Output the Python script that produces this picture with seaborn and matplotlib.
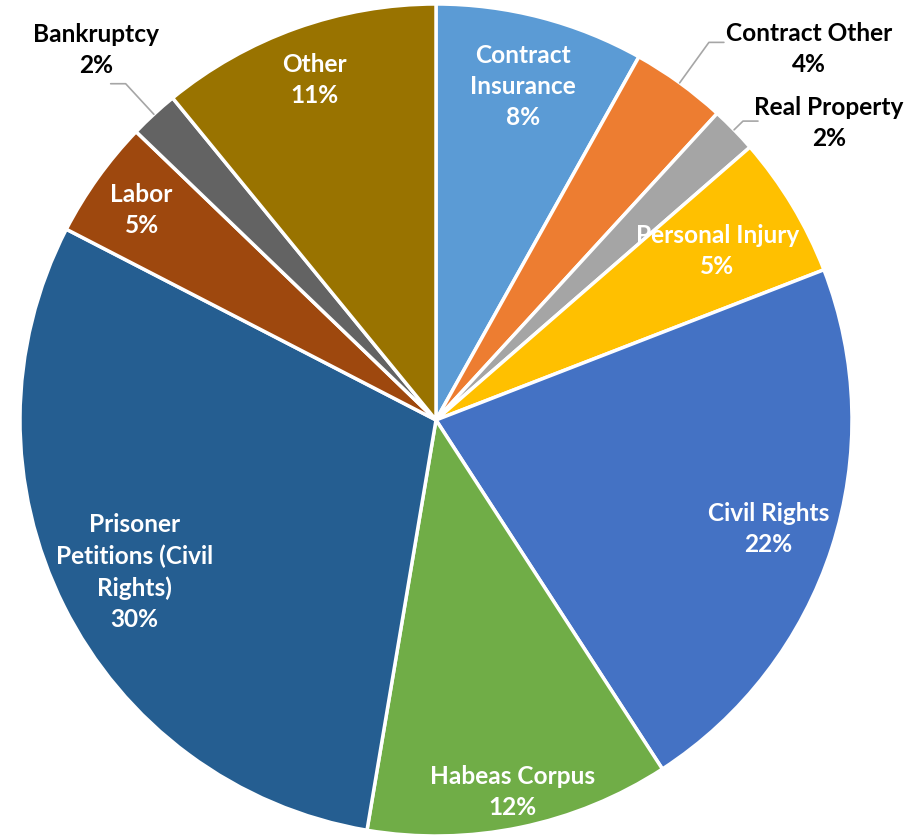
import numpy as np
import seaborn as sns
import matplotlib.pyplot as plt

# Case categories, clockwise from 12 o'clock
categories = ["Contract\nInsurance", "Contract Other", "Real Property", "Personal Injury",
              "Civil Rights", "Habeas Corpus", "Prisoner\nPetitions (Civil\nRights)",
              "Labor", "Bankruptcy", "Other"]
shares = [8.1, 3.7, 1.8, 5.5, 21.7, 11.8, 29.9, 4.6, 1.9, 10.9]
pct_labels = ["8%", "4%", "2%", "5%", "22%", "12%", "30%", "5%", "2%", "11%"]

colors = ["#5B9BD5", "#ED7D31", "#A5A5A5", "#FFC000", "#4472C4",
          "#70AD47", "#255E91", "#9E480E", "#636363", "#997300"]

# Radial position of the labels drawn inside the wedges
INSIDE_R = {0: 0.83, 3: 0.79, 4: 0.84, 5: 0.91, 6: 0.81, 7: 0.87, 9: 0.87}
# Outside labels: (elbow radius, horizontal leader direction, text x, text y)
OUTSIDE = {1: (1.12, 1, 0.896, 0.894),
           2: (1.03, 1, 0.945, 0.716),
           8: (1.10, -1, -0.817, 0.892)}

FONT_SIZE = 17.6
LINE_SPACING = 1.42

sns.set_theme(style="white")
plt.rcParams["font.family"] = ["Lato", "DejaVu Sans"]

W, H, DPI = 920, 837, 100
cx, cy, R = 436, 421, 416

fig = plt.figure(figsize=(W / DPI, H / DPI), dpi=DPI)
ax = fig.add_axes([0, 0, 1, 1])

wedges, _ = ax.pie(shares, colors=colors, startangle=90, counterclock=False,
                   radius=1.0, wedgeprops={"edgecolor": "white", "linewidth": 2.5})

ax.set_xlim(-cx / R, (W - cx) / R)
ax.set_ylim(-(H - cy) / R, cy / R)
ax.set_aspect("equal")
ax.axis("off")

for i, w in enumerate(wedges):
    mid = np.deg2rad((w.theta1 + w.theta2) / 2)
    label = f"{categories[i]}\n{pct_labels[i]}"
    if i in INSIDE_R:
        r = INSIDE_R[i]
        ax.text(r * np.cos(mid), r * np.sin(mid), label, color="white",
                fontsize=FONT_SIZE, fontweight="bold", ha="center", va="center",
                multialignment="center", linespacing=LINE_SPACING)
    else:
        k, d, tx, ty = OUTSIDE[i]
        x0, y0 = np.cos(mid), np.sin(mid)
        x1, y1 = k * x0, k * y0
        ax.plot([x0, x1, x1 + d * 0.036], [y0, y1, y1], color="#A6A6A6", lw=1.2)
        ax.text(tx, ty, label, color="black", fontsize=FONT_SIZE, fontweight="bold",
                ha="center", va="center", multialignment="center",
                linespacing=LINE_SPACING)

fig.savefig("out.png", dpi=DPI)
